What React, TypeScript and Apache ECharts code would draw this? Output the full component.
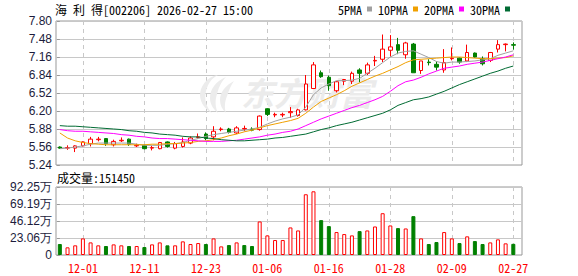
import React, { useEffect, useRef } from 'react';
import * as echarts from 'echarts';

const dates = [
  '11-26', '11-27', '11-28', '12-01', '12-02', '12-03', '12-04', '12-05', '12-08', '12-09',
  '12-10', '12-11', '12-12', '12-15', '12-16', '12-17', '12-18', '12-19', '12-22', '12-23',
  '12-24', '12-25', '12-26', '12-29', '12-30', '12-31', '01-05', '01-06', '01-07', '01-08',
  '01-09', '01-12', '01-13', '01-14', '01-15', '01-16', '01-19', '01-20', '01-21', '01-22',
  '01-23', '01-26', '01-27', '01-28', '01-29', '01-30', '02-02', '02-03', '02-04', '02-05',
  '02-06', '02-09', '02-10', '02-11', '02-12', '02-13', '02-24', '02-25', '02-26', '02-27',
];

const opens = [
  5.56, 5.54, 5.54, 5.58, 5.62, 5.69, 5.71, 5.60, 5.67, 5.70,
  5.58, 5.59, 5.54, 5.53, 5.65, 5.54, 5.57, 5.63, 5.73, 5.79,
  5.74, 5.87, 5.88, 5.81, 5.88, 5.88, 5.87, 6.24, 6.13, 6.13,
  6.17, 6.12, 6.22, 6.60, 6.88, 6.80, 6.56, 6.73, 6.73, 6.93,
  6.87, 7.09, 7.12, 7.28, 7.38, 7.20, 7.39, 6.92, 7.07, 7.03,
  6.93, 7.13, 7.14, 7.09, 7.23, 7.13, 7.10, 7.30, 7.38, 7.38,
];
const closes = [
  5.54, 5.55, 5.58, 5.65, 5.70, 5.70, 5.62, 5.66, 5.68, 5.61,
  5.59, 5.53, 5.55, 5.64, 5.57, 5.62, 5.65, 5.72, 5.74, 5.71,
  5.84, 5.88, 5.82, 5.90, 5.89, 5.86, 6.11, 6.14, 6.14, 6.14,
  6.19, 6.22, 6.68, 7.02, 6.81, 6.65, 6.72, 6.76, 6.87, 6.87,
  7.02, 7.10, 7.30, 7.34, 7.28, 7.41, 6.88, 7.09, 7.06, 6.98,
  7.06, 7.14, 7.07, 7.24, 7.16, 7.04, 7.24, 7.38, 7.39, 7.37,
];
const lows = [
  5.53, 5.51, 5.47, 5.57, 5.57, 5.66, 5.58, 5.57, 5.65, 5.58,
  5.56, 5.52, 5.50, 5.52, 5.55, 5.52, 5.55, 5.61, 5.71, 5.68,
  5.68, 5.84, 5.80, 5.79, 5.84, 5.84, 5.85, 6.11, 6.09, 6.09,
  6.08, 6.10, 6.21, 6.59, 6.79, 6.56, 6.53, 6.66, 6.68, 6.71,
  6.84, 7.00, 7.07, 7.17, 7.21, 7.13, 6.88, 6.86, 7.01, 6.92,
  6.88, 7.10, 7.04, 7.07, 7.15, 7.01, 7.07, 7.24, 7.26, 7.29,
];
const highs = [
  5.57, 5.59, 5.59, 5.66, 5.74, 5.74, 5.72, 5.69, 5.73, 5.71,
  5.62, 5.60, 5.58, 5.65, 5.66, 5.65, 5.73, 5.75, 5.80, 5.82,
  5.93, 5.91, 5.90, 5.93, 5.94, 5.91, 6.12, 6.25, 6.17, 6.17,
  6.27, 6.24, 6.84, 7.07, 6.92, 6.83, 6.73, 6.77, 6.90, 6.96,
  7.06, 7.18, 7.56, 7.55, 7.50, 7.43, 7.41, 7.09, 7.12, 7.08,
  7.30, 7.33, 7.15, 7.38, 7.24, 7.17, 7.25, 7.46, 7.40, 7.42,
];

const volumes = [
  149000, 104000, 131000, 225000, 171000, 131000, 122000, 144000, 131000, 122000,
  122000, 108000, 144000, 171000, 131000, 131000, 185000, 149000, 162000, 149000,
  225000, 117000, 135000, 171000, 135000, 122000, 455000, 266000, 203000, 203000,
  374000, 333000, 824000, 864000, 473000, 392000, 311000, 284000, 266000, 324000,
  333000, 387000, 567000, 401000, 365000, 360000, 527000, 225000, 149000, 176000,
  311000, 225000, 162000, 253000, 189000, 149000, 171000, 212000, 158000, 151450,
];
// 1 = rising volume bar (red, hollow), 0 = falling (green, filled)
const volUp = [
  0, 1, 1, 1, 1, 1, 0, 1, 1, 0,
  1, 0, 1, 1, 0, 1, 1, 1, 1, 0,
  1, 1, 0, 1, 0, 0, 1, 1, 1, 1,
  1, 1, 1, 1, 0, 0, 1, 1, 1, 0,
  1, 1, 1, 1, 0, 1, 0, 1, 0, 0,
  1, 1, 0, 1, 0, 0, 1, 1, 1, 0,
];

const ma5 = [
  5.53, 5.54, 5.56, 5.58, 5.61, 5.63, 5.63, 5.63, 5.63, 5.63,
  5.61, 5.59, 5.59, 5.59, 5.61, 5.62, 5.64, 5.68, 5.71, 5.75,
  5.78, 5.80, 5.82, 5.84, 5.86, 5.88, 5.91, 5.97, 6.02, 6.06,
  6.09, 6.13, 6.27, 6.49, 6.61, 6.68, 6.74, 6.74, 6.75, 6.78,
  6.87, 6.96, 7.06, 7.16, 7.23, 7.26, 7.27, 7.21, 7.15, 7.08,
  7.05, 7.07, 7.07, 7.08, 7.09, 7.11, 7.13, 7.19, 7.23, 7.27,
];
const ma10 = [
  5.81, 5.72, 5.67, 5.64, 5.62, 5.61, 5.60, 5.60, 5.60, 5.60,
  5.60, 5.60, 5.61, 5.61, 5.62, 5.62, 5.63, 5.64, 5.66, 5.67,
  5.69, 5.72, 5.76, 5.79, 5.83, 5.86, 5.90, 5.94, 5.97, 6.00,
  6.03, 6.07, 6.16, 6.27, 6.37, 6.43, 6.49, 6.56, 6.64, 6.70,
  6.76, 6.82, 6.87, 6.93, 6.99, 7.06, 7.11, 7.12, 7.13, 7.14,
  7.15, 7.16, 7.16, 7.15, 7.14, 7.13, 7.13, 7.14, 7.15, 7.18,
];
const ma20 = [
  5.87, 5.85, 5.84, 5.84, 5.83, 5.82, 5.81, 5.80, 5.78, 5.77,
  5.75, 5.74, 5.72, 5.71, 5.71, 5.70, 5.69, 5.68, 5.67, 5.66,
  5.66, 5.66, 5.67, 5.68, 5.70, 5.72, 5.74, 5.77, 5.79, 5.82,
  5.84, 5.88, 5.94, 6.00, 6.06, 6.11, 6.16, 6.21, 6.26, 6.30,
  6.35, 6.40, 6.46, 6.55, 6.65, 6.72, 6.75, 6.80, 6.86, 6.91,
  6.96, 6.98, 7.00, 7.03, 7.05, 7.07, 7.10, 7.13, 7.16, 7.20,
];
const ma30 = [
  5.94, 5.93, 5.93, 5.92, 5.91, 5.90, 5.89, 5.88, 5.87, 5.85,
  5.84, 5.82, 5.81, 5.79, 5.78, 5.77, 5.75, 5.74, 5.74, 5.72,
  5.71, 5.69, 5.68, 5.67, 5.67, 5.68, 5.69, 5.70, 5.72, 5.73,
  5.75, 5.77, 5.79, 5.83, 5.87, 5.90, 5.94, 5.97, 6.00, 6.04,
  6.08, 6.12, 6.16, 6.22, 6.30, 6.35, 6.40, 6.42, 6.45, 6.50,
  6.55, 6.61, 6.67, 6.72, 6.77, 6.82, 6.87, 6.91, 6.96, 7.00,
];

const labelIndices = [3, 11, 19, 27, 35, 43, 51, 59];
const maNames = ['5PMA', '10PMA', '20PMA', '30PMA'];
const maColors = ['#a0a0a0', '#f0a000', '#ff00ff', '#006b33'];
const maData = [ma5, ma10, ma20, ma30];

const MONO = "'Noto Sans Mono CJK SC', 'Noto Sans CJK SC', monospace";
const SANS = "'Liberation Sans', Arial, sans-serif";
const RED = '#ff0000';
const GREEN = '#008000';

const LEFT = 56;
const RIGHT_EDGE = 522;
const PITCH = 7.686;
const X_MAX = -0.5 + (RIGHT_EDGE - LEFT) / PITCH;

let logoRegistered = false;

export default function App() {
  const ref = useRef<HTMLDivElement>(null);

  useEffect(() => {
    if (!logoRegistered) {
      echarts.graphic.registerShape(
        'logo',
        echarts.graphic.extendPath(
          'M20 2 C8 4 2 14 2 22 C2 30 8 37 14 40 C8 34 6 26 8 18 C10 10 14 5 20 2 Z ' +
            'M28 4 C18 8 12 16 12 25 C12 31 15 36 20 40 C17 34 17 27 19 21 C21 13 24 8 28 4 Z ' +
            'M36 8 C28 12 22 19 22 27 C22 32 24 36 28 40 C26 34 27 28 29 23 C31 17 33 12 36 8 Z',
          {}
        ) as any
      );
      logoRegistered = true;
    }
    const chart = echarts.init(ref.current!, null, { renderer: 'svg', width: 578, height: 276 });

    const xBase = {
      type: 'value' as const,
      min: -0.5,
      max: X_MAX,
      axisLine: { show: false },
      axisTick: { show: false, customValues: labelIndices },
      splitLine: { show: true, lineStyle: { type: [4, 4], color: '#c8c8c8', width: 1 } },
    };

    const option: any = {
      animation: false,
      backgroundColor: '#ffffff',
      title: [
        {
          text: '海 利 得[002206] 2026-02-27 15:00',
          left: 55,
          top: 3,
          padding: 0,
          textStyle: { fontSize: 12, fontWeight: 'normal', fontFamily: MONO, color: '#000' },
        },
        {
          text: '成交量:' + volumes[volumes.length - 1],
          left: 57,
          top: 171,
          padding: 0,
          textStyle: { fontSize: 12, fontWeight: 'normal', fontFamily: MONO, color: '#000' },
        },
      ],
      legend: {
        data: maNames,
        left: 338,
        top: 3,
        padding: 0,
        align: 'right',
        icon: 'rect',
        itemWidth: 5,
        itemHeight: 5,
        itemGap: 6,
        selectedMode: false,
        textStyle: { fontSize: 12, fontFamily: MONO, color: '#000' },
      },
      graphic: [
        {
          type: 'logo',
          x: 198,
          y: 73,
          z: 1,
          style: { fill: '#ececec' },
        },
        {
          type: 'text',
          x: 241,
          y: 75,
          z: 1,
          style: {
            text: '东方财富',
            fontSize: 33,
            fontWeight: 'bold',
            fontStyle: 'italic',
            fontFamily: "'Noto Sans CJK SC'",
            fill: '#ebebeb',
          },
        },
      ],
      grid: [
        { left: LEFT, top: 21, width: RIGHT_EDGE - LEFT, height: 144, show: true, borderColor: '#999', borderWidth: 1 },
        { left: LEFT, top: 187, width: RIGHT_EDGE - LEFT, height: 68, show: true, borderColor: '#999', borderWidth: 1 },
      ],
      xAxis: [
        { ...xBase, gridIndex: 0, axisLabel: { show: false, customValues: labelIndices } },
        {
          ...xBase,
          gridIndex: 1,
          axisLabel: {
            show: true,
            customValues: labelIndices,
            formatter: (v: number) => dates[Math.round(v)] ?? '',
            color: RED,
            fontSize: 12,
            fontFamily: MONO,
            margin: 6,
          },
        },
      ],
      yAxis: [
        {
          type: 'value',
          gridIndex: 0,
          min: 5.24,
          max: 7.8,
          interval: 0.32,
          axisLine: { show: false },
          axisTick: { show: true, length: 3, lineStyle: { color: '#999' } },
          axisLabel: {
            formatter: (v: number) => v.toFixed(2),
            color: '#1c1c3c',
            fontSize: 12,
            fontFamily: SANS,
            margin: 4,
          },
          splitLine: { show: true, lineStyle: { color: '#c8c8c8', width: 1 } },
        },
        {
          type: 'value',
          gridIndex: 1,
          min: 0,
          max: 922480,
          interval: 230620,
          axisLine: { show: false },
          axisTick: { show: true, length: 3, lineStyle: { color: '#999' } },
          axisLabel: {
            formatter: (v: number) => (v === 0 ? '0' : (v / 10000).toFixed(2) + '万'),
            color: '#1c1c3c',
            fontSize: 12,
            fontFamily: SANS,
            margin: 4,
          },
          splitLine: { show: true, lineStyle: { color: '#c8c8c8', width: 1 } },
        },
      ],
      series: [
        {
          type: 'candlestick',
          name: 'K',
          xAxisIndex: 0,
          yAxisIndex: 0,
          barWidth: 4,
          data: opens.map((o, i) => [i, o, closes[i], lows[i], highs[i]]),
          itemStyle: {
            color: '#ffffff',
            color0: GREEN,
            borderColor: RED,
            borderColor0: GREEN,
            borderWidth: 1,
          },
          z: 3,
        },
        ...maNames.map((name, k) => ({
          type: 'line',
          name,
          xAxisIndex: 0,
          yAxisIndex: 0,
          data: maData[k].map((v, i) => [i, v]),
          symbol: 'none',
          showSymbol: false,
          color: maColors[k],
          lineStyle: { width: 1, color: maColors[k] },
          z: 4,
        })),
        {
          type: 'bar',
          name: 'VOL',
          xAxisIndex: 1,
          yAxisIndex: 1,
          barWidth: 4,
          data: volumes.map((v, i) => ({
            value: [i, v],
            itemStyle: volUp[i]
              ? { color: '#ffffff', borderColor: RED, borderWidth: 1 }
              : { color: GREEN, borderColor: GREEN, borderWidth: 1 },
          })),
        },
      ],
    };

    chart.setOption(option);
    return () => chart.dispose();
  }, []);

  return <div ref={ref} style={{ width: 578, height: 276, position: 'fixed', left: 0, top: 0 }} />;
}
